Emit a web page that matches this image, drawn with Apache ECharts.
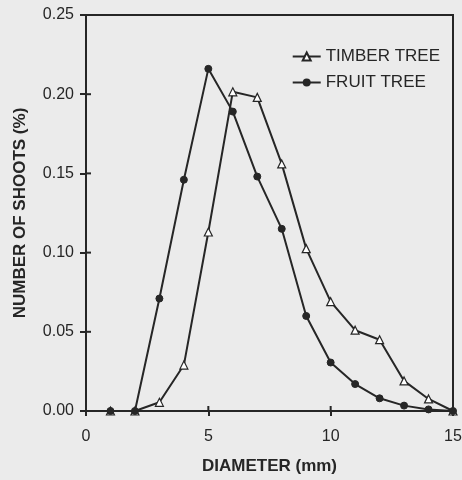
<!DOCTYPE html>
<html><head><meta charset="utf-8">
<script src="https://cdn.jsdelivr.net/npm/echarts@6/dist/echarts.min.js"></script>
<style>html,body{margin:0;padding:0;background:#ebebeb}#c{width:462px;height:480px}</style>
</head><body><div id="c"></div>
<script>
const diameter = [1,2,3,4,5,6,7,8,9,10,11,12,13,14,15];
const timberTree = [0,0,0.0055,0.029,0.113,0.2015,0.198,0.156,0.1025,0.069,0.051,0.045,0.019,0.0076,0];
const fruitTree = [0,0,0.071,0.146,0.216,0.189,0.148,0.115,0.060,0.0306,0.017,0.008,0.0034,0.001,0];
const xTicks = [0,5,10,15];
const yTicks = [0,0.05,0.10,0.15,0.20,0.25];
const ink = '#262626';
const font = '"Liberation Sans", Arial, sans-serif';
const chart = echarts.init(document.getElementById('c'));
const xBase = {type: 'value', min: xTicks[0], max: xTicks[xTicks.length-1], interval: 5, splitLine: {show: false}};
const yBase = {type: 'value', min: yTicks[0], max: yTicks[yTicks.length-1], interval: 0.05, splitLine: {show: false}};
chart.setOption({
  backgroundColor: '#ebebeb',
  animation: false,
  grid: {left: 86, right: 9, top: 15, bottom: 69, show: false, outerBoundsMode: 'none', containLabel: false},
  legend: {
    right: 17, top: 43, orient: 'vertical', itemGap: 9, itemWidth: 28, itemHeight: 10,
    textStyle: {fontFamily: font, fontSize: 17, color: ink},
    data: ['TIMBER TREE', 'FRUIT TREE']
  },
  xAxis: Object.assign({}, xBase, {
    name: 'DIAMETER (mm)', nameLocation: 'middle', nameGap: 47,
    nameTextStyle: {fontFamily: font, fontSize: 17, fontWeight: 'bold', color: ink},
    axisLine: {onZero: false, lineStyle: {color: ink, width: 2}},
    axisTick: {length: 5, lineStyle: {color: ink, width: 2}},
    axisLabel: {fontFamily: font, fontSize: 16, color: ink, margin: 18}
  }),
  yAxis: Object.assign({}, yBase, {
    name: 'NUMBER OF SHOOTS (%)', nameLocation: 'middle', nameGap: 57,
    nameTextStyle: {fontFamily: font, fontSize: 17, fontWeight: 'bold', color: ink},
    axisLine: {onZero: false, lineStyle: {color: ink, width: 2}},
    axisTick: {length: 6, lineStyle: {color: ink, width: 2}},
    axisLabel: {fontFamily: font, fontSize: 16, color: ink, margin: 12, formatter: v => v.toFixed(2)}
  }),
  series: [
    {name: 'TIMBER TREE', type: 'line',
     data: diameter.map((d,i)=>[d,timberTree[i]]),
     symbol: 'triangle', symbolSize: 8, color: ink,
     lineStyle: {color: ink, width: 2},
     itemStyle: {color: '#ffffff', borderColor: ink, borderWidth: 1.2}},
    {name: 'FRUIT TREE', type: 'line',
     data: diameter.map((d,i)=>[d,fruitTree[i]]),
     symbol: 'circle', symbolSize: 7, color: ink,
     lineStyle: {color: ink, width: 2},
     itemStyle: {color: ink, borderColor: ink}}
  ]
});
// frame and inward tick halves, positioned via the library's scales
const p0 = chart.convertToPixel({gridIndex: 0}, [xTicks[0], yTicks[0]]);
const p1 = chart.convertToPixel({gridIndex: 0}, [xTicks[xTicks.length-1], yTicks[yTicks.length-1]]);
const els = [{type: 'rect', shape: {x: p0[0], y: p1[1], width: p1[0]-p0[0], height: p0[1]-p1[1]},
  style: {fill: 'none', stroke: ink, lineWidth: 2}, silent: true, z: 1}];
xTicks.slice(1, -1).forEach(t => {
  const px = chart.convertToPixel({gridIndex: 0}, [t, 0]);
  els.push({type: 'line', shape: {x1: px[0], y1: p0[1], x2: px[0], y2: p0[1]-5}, style: {stroke: ink, lineWidth: 2}, silent: true});
});
yTicks.slice(1, -1).forEach(t => {
  const px = chart.convertToPixel({gridIndex: 0}, [0, t]);
  els.push({type: 'line', shape: {x1: p0[0], y1: px[1], x2: p0[0]+5, y2: px[1]}, style: {stroke: ink, lineWidth: 2}, silent: true});
});
chart.setOption({graphic: els});
</script></body></html>
